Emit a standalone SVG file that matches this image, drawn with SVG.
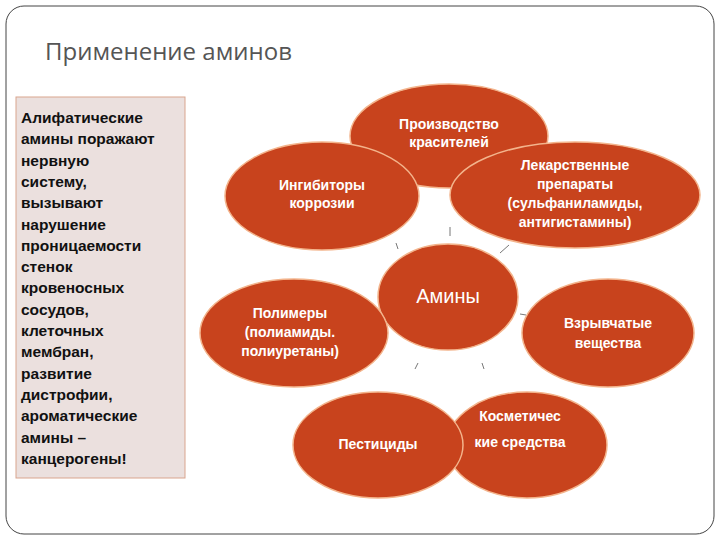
<svg xmlns="http://www.w3.org/2000/svg" width="720" height="540" viewBox="0 0 720 540">
<style>
.e{fill:#C8431D;stroke:#F3B48C;stroke-width:1.5}
.t{fill:#fff;font-family:"Liberation Sans Narrow","Liberation Sans",sans-serif;font-weight:bold;font-size:14px;text-anchor:middle}
.l{font-family:"Liberation Sans",sans-serif;font-weight:bold;font-size:15.5px;fill:#111}
.c{stroke:#777;stroke-width:1}
</style>
<rect width="720" height="540" fill="#fff"/>
<rect x="6" y="6" width="708" height="528" rx="18" fill="none" stroke="#444" stroke-width="1"/>
<text x="45" y="60" font-family="Open Sans,sans-serif" font-size="24" fill="#555">Применение аминов</text>
<g id="left">
<rect x="16" y="97" width="169" height="381" fill="#EBE0DE" stroke="#D9A58E" stroke-width="1"/>
<text class="l" x="21" y="0"><tspan x="21" y="123">Алифатические</tspan><tspan x="21" y="144.3">амины поражают</tspan><tspan x="21" y="165.6">нервную</tspan><tspan x="21" y="186.9">систему,</tspan><tspan x="21" y="208.2">вызывают</tspan><tspan x="21" y="229.5">нарушение</tspan><tspan x="21" y="250.8">проницаемости</tspan><tspan x="21" y="272.1">стенок</tspan><tspan x="21" y="293.4">кровеносных</tspan><tspan x="21" y="314.7">сосудов,</tspan><tspan x="21" y="336">клеточных</tspan><tspan x="21" y="357.3">мембран,</tspan><tspan x="21" y="378.6">развитие</tspan><tspan x="21" y="399.9">дистрофии,</tspan><tspan x="21" y="421.2">ароматические</tspan><tspan x="21" y="442.5">амины –</tspan><tspan x="21" y="463.8">канцерогены!</tspan></text>
</g>
<g id="connectors">
<line class="c" x1="450" y1="227" x2="450" y2="236"/>
<line class="c" x1="396" y1="243" x2="398" y2="249"/>
<line class="c" x1="500" y1="253" x2="509" y2="245"/>
<line class="c" x1="520" y1="314" x2="526" y2="315"/>
<line class="c" x1="415" y1="369" x2="418" y2="363"/>
<line class="c" x1="482" y1="363" x2="484" y2="369"/>
</g>
<g id="n-dyes"><ellipse class="e" cx="449" cy="136" rx="99" ry="52"/><text class="t" x="449" y="129">Производство</text><text class="t" x="449" y="147">красителей</text></g>
<g id="n-corr"><ellipse class="e" cx="322" cy="196" rx="97" ry="54"/><text class="t" x="322" y="190">Ингибиторы</text><text class="t" x="322" y="208">коррозии</text></g>
<g id="n-drugs"><ellipse class="e" cx="575" cy="195" rx="125" ry="53"/><text class="t" x="575" y="170">Лекарственные</text><text class="t" x="575" y="189">препараты</text><text class="t" x="575" y="208">(сульфаниламиды,</text><text class="t" x="575" y="227">антигистамины)</text></g>
<g id="n-amines"><ellipse class="e" cx="448" cy="297" rx="70" ry="53"/><text x="448" y="303" fill="#fff" font-family="Liberation Sans,sans-serif" font-size="20" text-anchor="middle">Амины</text></g>
<g id="n-poly"><ellipse class="e" cx="294" cy="333" rx="94" ry="54"/><text class="t" x="290" y="318">Полимеры</text><text class="t" x="290" y="337">(полиамиды.</text><text class="t" x="290" y="356">полиуретаны)</text></g>
<g id="n-expl"><ellipse class="e" cx="608" cy="333" rx="86" ry="54"/><text class="t" x="608" y="328">Взрывчатые</text><text class="t" x="608" y="348">вещества</text></g>
<g id="n-cosm"><ellipse class="e" cx="527" cy="445" rx="80" ry="53"/><text class="t" x="520" y="421">Косметичес</text><text class="t" x="520" y="447">кие средства</text></g>
<g id="n-pest"><ellipse class="e" cx="378" cy="445" rx="85" ry="53"/><text class="t" x="378" y="449">Пестициды</text></g>
</svg>
